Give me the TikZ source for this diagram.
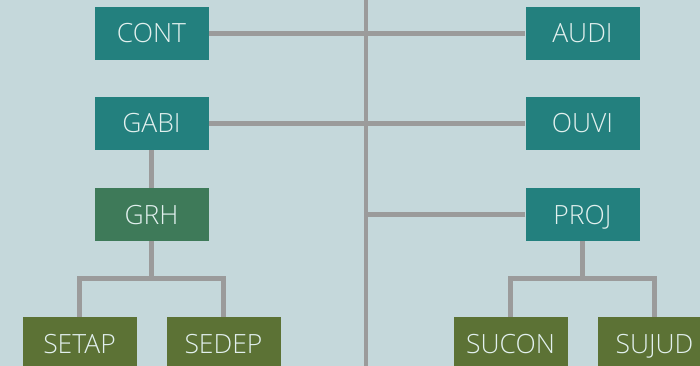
\documentclass[tikz,border=0pt]{standalone}
\usepackage{fontspec}
\setmainfont{Open Sans}[UprightFont=* Light]
\usetikzlibrary{backgrounds}
\definecolor{bgcol}{HTML}{C5D8DB}
\definecolor{linkcol}{HTML}{9B9B9B}
\definecolor{tealbox}{HTML}{23807E}
\definecolor{grhbox}{HTML}{3E7A59}
\definecolor{olivebox}{HTML}{5C7235}
\definecolor{boxtext}{HTML}{E2F0EE}
\tikzset{
  unit/.style={rectangle, minimum width=114pt, minimum height=53pt, inner sep=0pt,
    text height=19pt, text depth=0pt,
    text=boxtext, font=\fontsize{26.5}{30}\selectfont},
  tealunit/.style={unit, fill=tealbox},
  grhunit/.style={unit, fill=grhbox},
  oliveunit/.style={unit, fill=olivebox},
  link/.style={draw=linkcol, line width=4.3pt}
}
\begin{document}
\begin{tikzpicture}[x=1pt,y=-1pt]
\useasboundingbox (0,0) rectangle (700,366);

% units
\node[tealunit]  (CONT)  at (151.5,33.5)  {CONT};
\node[tealunit]  (AUDI)  at (582.5,33.5)  {AUDI};
\node[tealunit]  (GABI)  at (151.5,123.5) {GABI};
\node[tealunit]  (OUVI)  at (582.5,123.5) {OUVI};
\node[grhunit]   (GRH)   at (151.5,214.5) {GRH};
\node[tealunit]  (PROJ)  at (582.5,214.5) {PROJ};
\node[oliveunit] (SETAP) at (79.5,343.5)  {SETAP};
\node[oliveunit] (SEDEP) at (223.5,343.5) {SEDEP};
\node[oliveunit] (SUCON) at (510.5,343.5) {SUCON};
\node[oliveunit] (SUJUD) at (654.5,343.5) {SUJUD};

% trunk and forks
\coordinate (trunktop) at (366,0);
\coordinate (trunkbot) at (366,366);
\coordinate (grhfork)  at (151.5,278.5);
\coordinate (projfork) at (582.5,278.5);

\begin{pgfonlayer}{background}
  \fill[bgcol] (0,0) rectangle (700,366);
  \draw[link] (trunktop) -- (trunkbot);
  \draw[link] (CONT.east) -- (AUDI.west);
  \draw[link] (GABI.east) -- (OUVI.west);
  \draw[link] (PROJ.west) -- (PROJ.west -| trunktop);
  \draw[link] (GABI.south) -- (GRH.north);
  \draw[link] (GRH.south) -- (grhfork);
  \draw[link] (SETAP.north) |- (grhfork) -| (SEDEP.north);
  \draw[link] (PROJ.south) -- (projfork);
  \draw[link] (SUCON.north) |- (projfork) -| (SUJUD.north);
\end{pgfonlayer}
\end{tikzpicture}
\end{document}
